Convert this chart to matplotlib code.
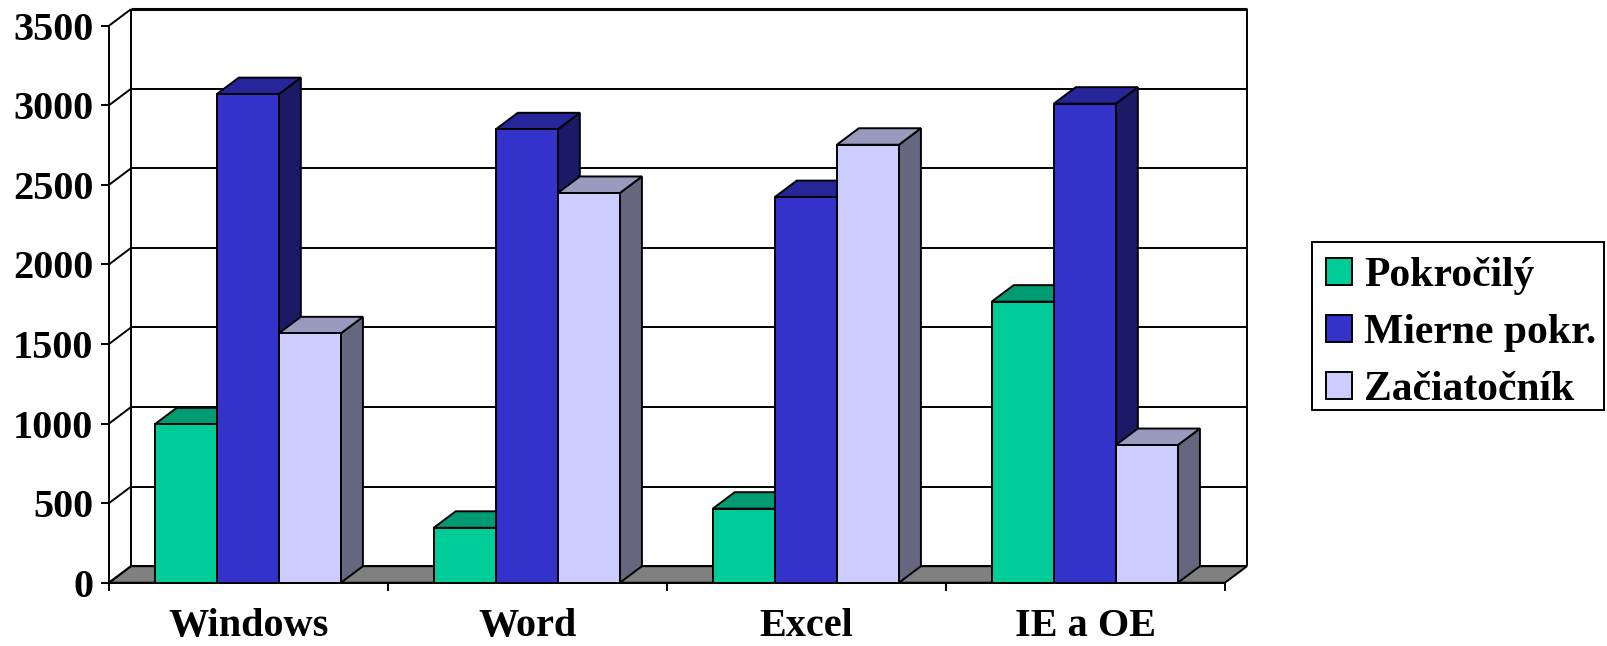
import matplotlib
matplotlib.use("Agg")
import matplotlib.pyplot as plt
from matplotlib.patches import Patch, Polygon, Rectangle

categories = ["Windows", "Word", "Excel", "IE a OE"]
series_names = ["Pokročilý", "Mierne pokr.", "Začiatočník"]
pokrocily = [995, 345, 465, 1766]
mierne = [3070, 2849, 2423, 3010]
zaciatocnik = [1567, 2449, 2752, 865]
y_ticks = [0, 500, 1000, 1500, 2000, 2500, 3000, 3500]

front_colors = ["#00CC99", "#3333CC", "#CCCCFF"]
top_colors = ["#009A73", "#26269A", "#9A9ABF"]
side_colors = ["#006650", "#1A1A66", "#666680"]

W, H = 1608, 646
L_PX, R_PX, Y0_PX, YT_PX = 109, 1225, 582.7, 25.7
plt.rcParams["font.family"] = ["Liberation Serif", "DejaVu Serif"]
plt.rcParams["font.weight"] = "bold"

fig = plt.figure(figsize=(W / 100, H / 100), dpi=100, facecolor="white")
ax = fig.add_axes([L_PX / W, 1 - Y0_PX / H, (R_PX - L_PX) / W, (Y0_PX - YT_PX) / H])
ax.set_xlim(0, 4)
ax.set_ylim(0, 3500)
ax.patch.set_visible(False)

dx = 22 / 279
dy = 16.5 / (557 / 3500)
bw = 0.2225
LW = 1.4


def line(xs, ys, lw=LW, z=1):
    ax.plot(xs, ys, color="black", lw=lw, clip_on=False, zorder=z, solid_capstyle="butt")


# floor
ax.add_patch(Polygon([(0, 0), (4, 0), (4 + dx, dy), (dx, dy)], closed=True, fc="#808080",
                     ec="black", lw=LW, clip_on=False, zorder=0.5))
# walls and gridlines
for v in y_ticks:
    line([0, dx], [v, v + dy])
    line([dx, 4 + dx], [v + dy, v + dy], lw=2.2 if v == y_ticks[-1] else LW)
line([dx, dx], [dy, 3500 + dy])
line([4 + dx, 4 + dx], [dy, 3500 + dy])

# bars, drawn from the back-left to the front-right
z = 2
for i in range(len(categories)):
    for j, vals in enumerate([pokrocily, mierne, zaciatocnik]):
        v = vals[i]
        x0 = i + 0.5 + (j - 1.5) * bw - 0.0025
        x1 = x0 + bw
        ax.add_patch(Polygon([(x1, 0), (x1 + dx, dy), (x1 + dx, v + dy), (x1, v)], closed=True,
                             fc=side_colors[j], ec="black", lw=LW, clip_on=False, zorder=z,
                             joinstyle="miter"))
        ax.add_patch(Polygon([(x0, v), (x1, v), (x1 + dx, v + dy), (x0 + dx, v + dy)], closed=True,
                             fc=top_colors[j], ec="black", lw=LW, clip_on=False, zorder=z,
                             joinstyle="miter"))
        ax.bar(x0, v, bw, align="edge", color=front_colors[j], edgecolor="black", lw=LW,
               zorder=z + 0.1, clip_on=False)
        z += 1

# front axes
for s in ["top", "right"]:
    ax.spines[s].set_visible(False)
for s in ["left", "bottom"]:
    ax.spines[s].set_linewidth(LW)
    ax.spines[s].set_zorder(z + 1)
ax.set_yticks(y_ticks)
ax.set_yticklabels([str(v) for v in y_ticks])
ax.set_xticks(range(5))
ax.set_xticklabels([])
ax.set_xticks([i + 0.5 for i in range(4)], minor=True)
ax.set_xticklabels(categories, minor=True)
ax.tick_params(axis="x", which="major", length=5.8, width=LW)
ax.tick_params(axis="x", which="minor", length=0, pad=18.5, labelsize=29)
ax.tick_params(axis="y", length=5.8, width=LW, pad=5.5, labelsize=29)

# legend: frame drawn separately so that its margins match the reference
fig.add_artist(Rectangle((1312 / W, 1 - 410 / H), 292 / W, 168 / H, transform=fig.transFigure,
                         fc="white", ec="black", lw=LW))
handles = [Patch(fc=c, ec="black", lw=LW) for c in front_colors]
leg = fig.legend(handles, series_names, loc="center left",
                 bbox_to_anchor=(1326 / W, 1 - 333 / H), frameon=False,
                 prop={"family": "Liberation Serif", "weight": "bold", "size": 30},
                 handlelength=0.62, handleheight=0.62, handletextpad=0.29,
                 labelspacing=0.45, borderpad=0, borderaxespad=0)
leg.set_zorder(10)

fig.savefig("out.png", dpi=100, facecolor="white")
